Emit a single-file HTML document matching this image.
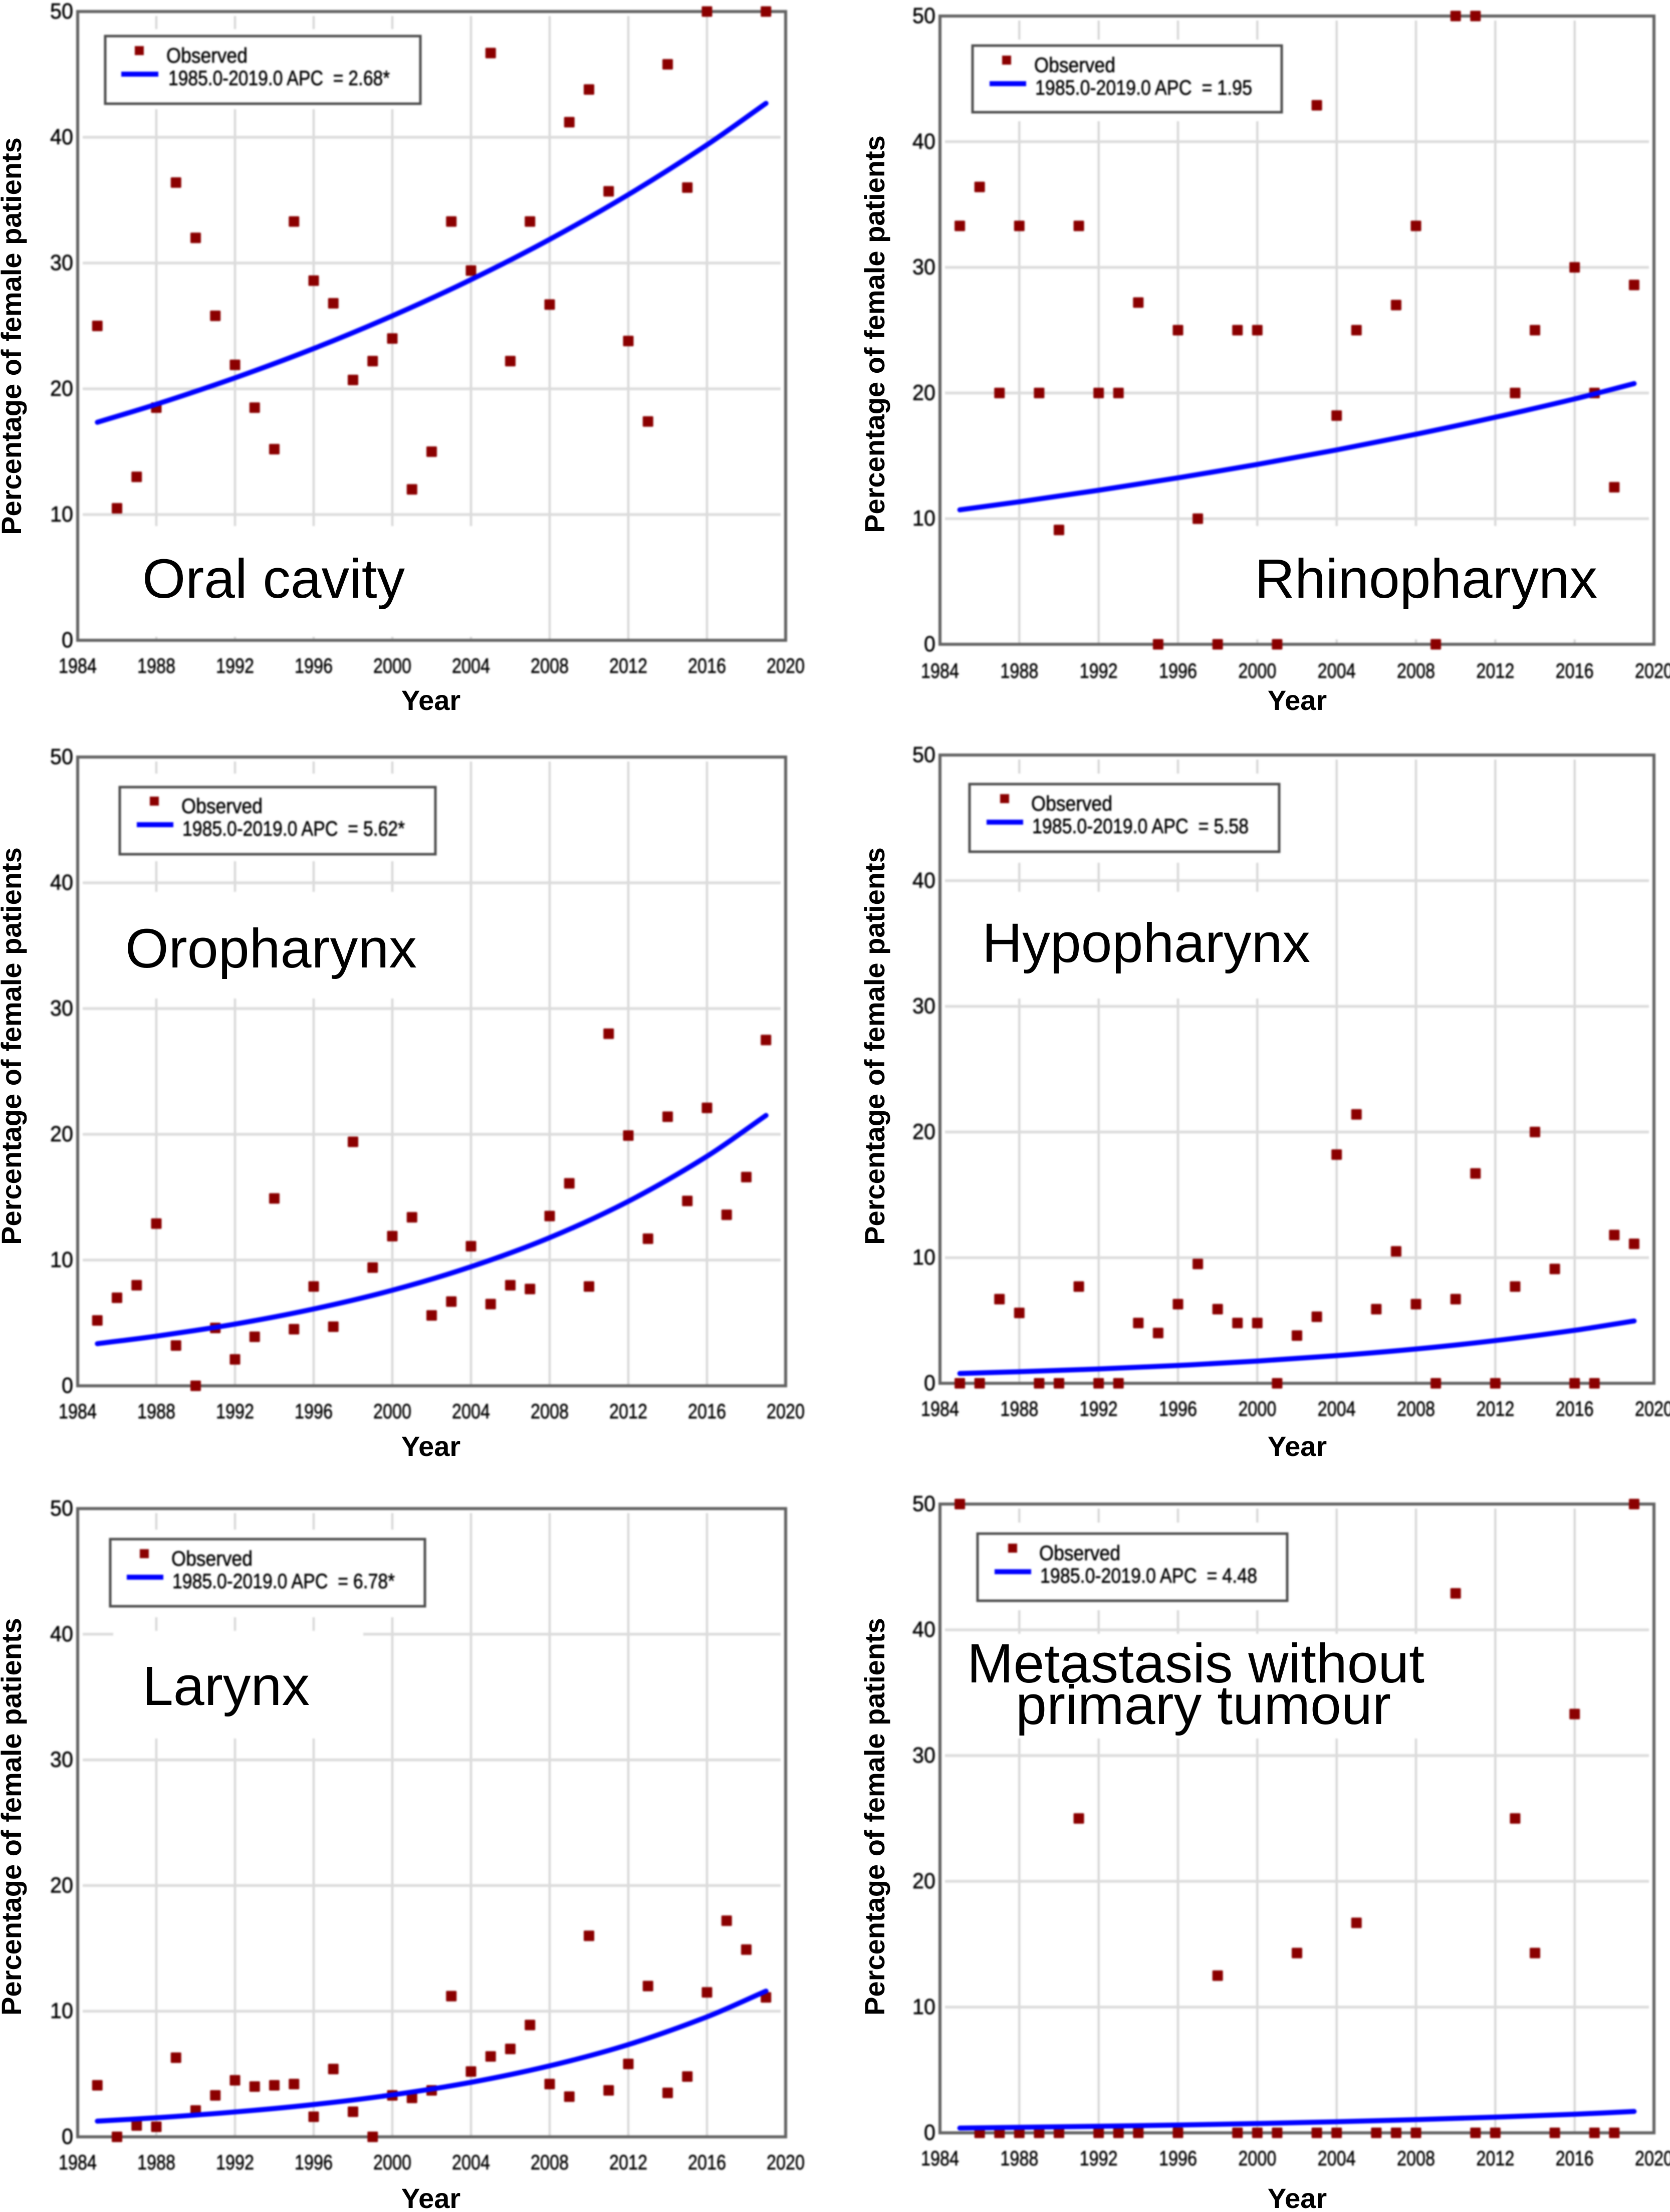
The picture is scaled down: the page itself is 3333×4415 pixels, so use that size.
<!DOCTYPE html>
<html lang="en">
<head>
<meta charset="utf-8">
<title>Percentage of female patients by year and tumour site</title>
<style>
html,body{margin:0;padding:0;background:#fff;}
svg{display:block;font-family:"Liberation Sans",Arial,sans-serif;}
.soft{filter:blur(1.5px);}
.tick{font-size:42px;fill:#000;stroke:#000;stroke-width:0.7;}
.ytick{font-size:44px;}
.leg{font-size:42px;fill:#000;stroke:#000;stroke-width:0.7;white-space:pre;}
.axt{font-size:56px;font-weight:700;fill:#000;}
.big{font-size:110px;fill:#000;}
.frame{fill:none;stroke:#626262;stroke-width:6;}
.legbox{fill:#fff;stroke:#4d4d4d;stroke-width:5;}
.patch{fill:#fff;}
</style>
</head>
<body>
<svg id="figure" xmlns="http://www.w3.org/2000/svg" width="3333" height="4415" viewBox="0 0 3333 4415">
<rect width="3333" height="4415" fill="#fff"/>

<g>
  <g class="soft">
    <g id="grid0"></g>
    <rect class="patch" x="170" y="58" width="720" height="160"/>
    <rect class="patch" x="170" y="1050" width="850" height="221"/>
    <rect class="frame" x="155" y="23" width="1413" height="1255"/>
    <g id="ticks0"></g>
    <g>
      <rect class="legbox" x="210" y="72" width="629" height="135"/>
      <rect x="269" y="92" width="18" height="18" fill="#8b0000"/>
      <text class="leg" x="332" y="125" textLength="162" lengthAdjust="spacingAndGlyphs">Observed</text>
      <line x1="242" x2="316" y1="148" y2="148" stroke="#0000ff" stroke-width="10"/>
      <text class="leg" x="336" y="170" textLength="442" lengthAdjust="spacingAndGlyphs">1985.0-2019.0 APC  = 2.68*</text>
    </g>
    <g id="marks0"></g>
  </g>
  <text class="axt" transform="translate(42,671) rotate(-90)" text-anchor="middle">Percentage of female patients</text>
  <text class="axt" x="860" y="1417" text-anchor="middle">Year</text>
  <text class="big" x="284" y="1193" textLength="524" lengthAdjust="spacingAndGlyphs">Oral cavity</text>
</g>

<g>
  <g class="soft">
    <g id="grid1"></g>
    <rect class="patch" x="1890" y="79" width="710" height="163"/>
    <rect class="patch" x="2440" y="1050" width="800" height="226"/>
    <rect class="frame" x="1876" y="32" width="1425" height="1254"/>
    <g id="ticks1"></g>
    <g>
      <rect class="legbox" x="1941" y="91" width="617" height="133"/>
      <rect x="2000" y="111" width="18" height="18" fill="#8b0000"/>
      <text class="leg" x="2064" y="144" textLength="162" lengthAdjust="spacingAndGlyphs">Observed</text>
      <line x1="1975" x2="2048" y1="167" y2="167" stroke="#0000ff" stroke-width="10"/>
      <text class="leg" x="2066" y="189" textLength="433" lengthAdjust="spacingAndGlyphs">1985.0-2019.0 APC  = 1.95</text>
    </g>
    <g id="marks1"></g>
  </g>
  <text class="axt" transform="translate(1765,667) rotate(-90)" text-anchor="middle">Percentage of female patients</text>
  <text class="axt" x="2589" y="1417" text-anchor="middle">Year</text>
  <text class="big" x="2504" y="1193" textLength="684" lengthAdjust="spacingAndGlyphs">Rhinopharynx</text>
</g>

<g>
  <g class="soft">
    <g id="grid2"></g>
    <rect class="patch" x="170" y="1544" width="720" height="175"/>
    <rect class="patch" x="170" y="1780" width="720" height="213"/>
    <rect class="frame" x="155" y="1511" width="1413" height="1255"/>
    <g id="ticks2"></g>
    <g>
      <rect class="legbox" x="239" y="1571" width="630" height="134"/>
      <rect x="299" y="1590" width="18" height="18" fill="#8b0000"/>
      <text class="leg" x="362" y="1623" textLength="162" lengthAdjust="spacingAndGlyphs">Observed</text>
      <line x1="273" x2="346" y1="1646" y2="1646" stroke="#0000ff" stroke-width="10"/>
      <text class="leg" x="364" y="1668" textLength="444" lengthAdjust="spacingAndGlyphs">1985.0-2019.0 APC  = 5.62*</text>
    </g>
    <g id="marks2"></g>
  </g>
  <text class="axt" transform="translate(42,2088) rotate(-90)" text-anchor="middle">Percentage of female patients</text>
  <text class="axt" x="860" y="2906" text-anchor="middle">Year</text>
  <text class="big" x="250" y="1931" textLength="582" lengthAdjust="spacingAndGlyphs">Oropharynx</text>
</g>

<g>
  <g class="soft">
    <g id="grid3"></g>
    <rect class="patch" x="1890" y="1544" width="710" height="178"/>
    <rect class="patch" x="1890" y="1780" width="710" height="213"/>
    <rect class="frame" x="1876" y="1507" width="1425" height="1254"/>
    <g id="ticks3"></g>
    <g>
      <rect class="legbox" x="1935" y="1565" width="618" height="135"/>
      <rect x="1996" y="1585" width="18" height="18" fill="#8b0000"/>
      <text class="leg" x="2058" y="1618" textLength="162" lengthAdjust="spacingAndGlyphs">Observed</text>
      <line x1="1969" x2="2042" y1="1641" y2="1641" stroke="#0000ff" stroke-width="10"/>
      <text class="leg" x="2060" y="1663" textLength="432" lengthAdjust="spacingAndGlyphs">1985.0-2019.0 APC  = 5.58</text>
    </g>
    <g id="marks3"></g>
  </g>
  <text class="axt" transform="translate(1765,2088) rotate(-90)" text-anchor="middle">Percentage of female patients</text>
  <text class="axt" x="2589" y="2906" text-anchor="middle">Year</text>
  <text class="big" x="1960" y="1920" textLength="655" lengthAdjust="spacingAndGlyphs">Hypopharynx</text>
</g>

<g>
  <g class="soft">
    <g id="grid4"></g>
    <rect class="patch" x="170" y="3053" width="720" height="175"/>
    <rect class="patch" x="226" y="3255" width="499" height="215"/>
    <rect class="frame" x="155" y="3011" width="1413" height="1254"/>
    <g id="ticks4"></g>
    <g>
      <rect class="legbox" x="220" y="3072" width="628" height="134"/>
      <rect x="279" y="3092" width="18" height="18" fill="#8b0000"/>
      <text class="leg" x="342" y="3125" textLength="162" lengthAdjust="spacingAndGlyphs">Observed</text>
      <line x1="253" x2="326" y1="3148" y2="3148" stroke="#0000ff" stroke-width="10"/>
      <text class="leg" x="344" y="3170" textLength="444" lengthAdjust="spacingAndGlyphs">1985.0-2019.0 APC  = 6.78*</text>
    </g>
    <g id="marks4"></g>
  </g>
  <text class="axt" transform="translate(42,3626) rotate(-90)" text-anchor="middle">Percentage of female patients</text>
  <text class="axt" x="860" y="4407" text-anchor="middle">Year</text>
  <text class="big" x="284" y="3403" textLength="334" lengthAdjust="spacingAndGlyphs">Larynx</text>
</g>

<g>
  <g class="soft">
    <g id="grid5"></g>
    <rect class="patch" x="1890" y="3039" width="710" height="175"/>
    <rect class="patch" x="1890" y="3261" width="990" height="209"/>
    <rect class="frame" x="1876" y="3002" width="1425" height="1255"/>
    <g id="ticks5"></g>
    <g>
      <rect class="legbox" x="1951" y="3061" width="618" height="134"/>
      <rect x="2012" y="3081" width="18" height="18" fill="#8b0000"/>
      <text class="leg" x="2074" y="3114" textLength="162" lengthAdjust="spacingAndGlyphs">Observed</text>
      <line x1="1985" x2="2058" y1="3137" y2="3137" stroke="#0000ff" stroke-width="10"/>
      <text class="leg" x="2076" y="3159" textLength="433" lengthAdjust="spacingAndGlyphs">1985.0-2019.0 APC  = 4.48</text>
    </g>
    <g id="marks5"></g>
  </g>
  <text class="axt" transform="translate(1765,3626) rotate(-90)" text-anchor="middle">Percentage of female patients</text>
  <text class="axt" x="2589" y="4407" text-anchor="middle">Year</text>
  <text class="big" x="1930" y="3358" textLength="913" lengthAdjust="spacingAndGlyphs">Metastasis without</text>
  <text class="big" x="2027" y="3441" textLength="749" lengthAdjust="spacingAndGlyphs">primary tumour</text>
</g>
</svg>

<script>
const xTicks = [1984, 1988, 1992, 1996, 2000, 2004, 2008, 2012, 2016, 2020];
const yTicks = [0, 10, 20, 30, 40, 50];
const years = [1985,1986,1987,1988,1989,1990,1991,1992,1993,1994,1995,1996,1997,1998,1999,2000,2001,2002,2003,2004,2005,2006,2007,2008,2009,2010,2011,2012,2013,2014,2015,2016,2017,2018,2019];
const trendYears = [1985, 1988, 1992, 1996, 2000, 2004, 2008, 2012, 2016, 2019];

const oralObserved = [25.0,10.5,13.0,18.5,36.4,32.0,25.8,21.9,18.5,15.2,33.3,28.6,26.8,20.7,22.2,24.0,12.0,15.0,33.3,29.4,46.7,22.2,33.3,26.7,41.2,43.8,35.7,23.8,17.4,45.8,36.0,50,null,null,50];
const oralTrend = [17.34,18.77,20.87,23.2,25.8,28.68,31.88,35.44,39.4,42.7];

const rhinoObserved = [33.3,36.4,20,33.3,20,9.1,33.3,20,20,27.2,0,25,10,0,25,25,0,null,42.9,18.2,25,null,27.0,33.3,0,50,50,null,20,25,null,30,20,12.5,28.6];
const rhinoTrend = [10.7,11.34,12.26,13.25,14.32,15.47,16.72,18.07,19.53,20.75];

const oroObserved = [5.2,7.0,8.0,12.9,3.2,0,4.6,2.1,3.9,14.9,4.5,7.9,4.7,19.4,9.4,11.9,13.4,5.6,6.7,11.1,6.5,8.0,7.7,13.5,16.1,7.9,28.0,19.9,11.7,21.4,14.7,22.1,13.6,16.6,27.5];
const oroTrend = [3.35,3.95,4.91,6.11,7.6,9.47,11.78,14.67,18.25,21.5];

const hypoObserved = [0,0,6.7,5.6,0,0,7.7,0,0,4.8,4.0,6.3,9.5,5.9,4.8,4.8,0,3.8,5.3,18.2,21.4,5.9,10.5,6.3,0,6.7,16.7,0,7.7,20.0,9.1,0,0,11.8,11.1];
const hypoTrend = [0.78,0.92,1.14,1.42,1.77,2.2,2.73,3.4,4.22,4.96];

const larynxObserved = [4.1,0,0.9,0.8,6.3,2.1,3.3,4.5,4.0,4.1,4.2,1.6,5.4,2.0,0,3.3,3.1,3.7,11.2,5.2,6.4,7.0,8.9,4.2,3.2,16.0,3.7,5.8,12.0,3.5,4.8,11.5,17.2,14.9,11.1];
const larynxTrend = [1.25,1.52,1.98,2.57,3.34,4.34,5.65,7.34,9.55,11.6];

const metaObserved = [50,0,0,0,0,0,25,0,0,0,null,0,null,12.5,0,0,0,14.3,0,0,16.7,0,0,0,null,42.9,0,0,25,14.3,0,33.3,0,0,50];
const metaTrend = [0.38,0.44,0.52,0.62,0.74,0.88,1.05,1.25,1.48,1.7];

const observedSeries = [oralObserved, rhinoObserved, oroObserved, hypoObserved, larynxObserved, metaObserved];
const trendSeries = [oralTrend, rhinoTrend, oroTrend, hypoTrend, larynxTrend, metaTrend];

const plotBoxes = [
  {l:155, r:1568, t:23, b:1278, tickGap:65},
  {l:1876, r:3301, t:32, b:1286, tickGap:67},
  {l:155, r:1568, t:1511, b:2766, tickGap:65},
  {l:1876, r:3301, t:1507, b:2761, tickGap:65},
  {l:155, r:1568, t:3011, b:4265, tickGap:65},
  {l:1876, r:3301, t:3002, b:4257, tickGap:65}
];

const NS = 'http://www.w3.org/2000/svg';
const xMin = xTicks[0];
const xMax = xTicks[xTicks.length - 1];
const yMin = yTicks[0];
const yMax = yTicks[yTicks.length - 1];

function makeX(box) {
  return function (v) { return box.l + (v - xMin) / (xMax - xMin) * (box.r - box.l); };
}
function makeY(box) {
  return function (v) { return box.b - (v - yMin) / (yMax - yMin) * (box.b - box.t); };
}
function slopeAt(p, i) {
  const a = p[Math.max(i - 1, 0)];
  const e = p[Math.min(i + 1, p.length - 1)];
  return (e[1] - a[1]) / (e[0] - a[0]);
}
function smoothPath(p) {
  let d = 'M' + p[0][0].toFixed(1) + ' ' + p[0][1].toFixed(1);
  for (let i = 0; i < p.length - 1; i++) {
    const b = p[i];
    const c = p[i + 1];
    const dx = (c[0] - b[0]) / 3;
    const c1y = b[1] + slopeAt(p, i) * dx;
    const c2y = c[1] - slopeAt(p, i + 1) * dx;
    d += 'C' + (b[0] + dx).toFixed(1) + ' ' + c1y.toFixed(1) + ' ' + (c[0] - dx).toFixed(1) + ' ' + c2y.toFixed(1) + ' ' + c[0].toFixed(1) + ' ' + c[1].toFixed(1);
  }
  return d;
}

plotBoxes.forEach(function (box, idx) {
  const x = makeX(box);
  const y = makeY(box);
  const grid = document.getElementById('grid' + idx);
  const ticks = document.getElementById('ticks' + idx);
  const marks = document.getElementById('marks' + idx);

  xTicks.forEach(function (t) {
    if (t !== xMin && t !== xMax) {
      const ln = document.createElementNS(NS, 'line');
      
      
      ln.setAttribute('x1', x(t));
      ln.setAttribute('x2', x(t));
      ln.setAttribute('y1', box.t + 9);
      ln.setAttribute('y2', box.b);
      ln.setAttribute('stroke', '#d8d8d8');
      ln.setAttribute('stroke-width', '4.5');
      grid.appendChild(ln);
    }
    const lab = document.createElementNS(NS, 'text');
    
    
    lab.setAttribute('class', 'tick');
    lab.setAttribute('x', x(t));
    lab.setAttribute('y', box.b + box.tickGap);
    lab.setAttribute('text-anchor', 'middle');
    lab.setAttribute('textLength', '76');
    lab.setAttribute('lengthAdjust', 'spacingAndGlyphs');
    lab.textContent = String(t);
    ticks.appendChild(lab);
  });

  yTicks.forEach(function (t) {
    if (t !== yMin && t !== yMax) {
      const ln = document.createElementNS(NS, 'line');
      
      
      ln.setAttribute('x1', box.l + 10);
      ln.setAttribute('x2', box.r - 10);
      ln.setAttribute('y1', y(t));
      ln.setAttribute('y2', y(t));
      ln.setAttribute('stroke', '#dcdcdc');
      ln.setAttribute('stroke-width', '5.5');
      grid.appendChild(ln);
    }
    const lab = document.createElementNS(NS, 'text');
    
    
    lab.setAttribute('class', 'tick ytick');
    lab.setAttribute('x', box.l - 9);
    lab.setAttribute('y', y(t) + 14);
    lab.setAttribute('text-anchor', 'end');
    lab.setAttribute('textLength', String(t).length * 23);
    lab.setAttribute('lengthAdjust', 'spacingAndGlyphs');
    lab.textContent = String(t);
    ticks.appendChild(lab);
  });

  observedSeries[idx].forEach(function (v, i) {
    if (v === null) return;
    const pt = document.createElementNS(NS, 'rect');
    
    
    pt.setAttribute('x', x(years[i]) - 10.5);
    pt.setAttribute('y', y(v) - 10.5);
    pt.setAttribute('width', '21');
    pt.setAttribute('height', '21');
    pt.setAttribute('rx', '2');
    pt.setAttribute('fill', '#8b0000');
    marks.appendChild(pt);
  });

  const pts = trendSeries[idx].map(function (v, i) { return [x(trendYears[i]), y(v)]; });
  const line = document.createElementNS(NS, 'path');
  
  
  line.setAttribute('d', smoothPath(pts));
  line.setAttribute('fill', 'none');
  line.setAttribute('stroke', '#0000ff');
  line.setAttribute('stroke-width', '10');
  line.setAttribute('stroke-linecap', 'round');
  marks.appendChild(line);
});
</script>
</body>
</html>
